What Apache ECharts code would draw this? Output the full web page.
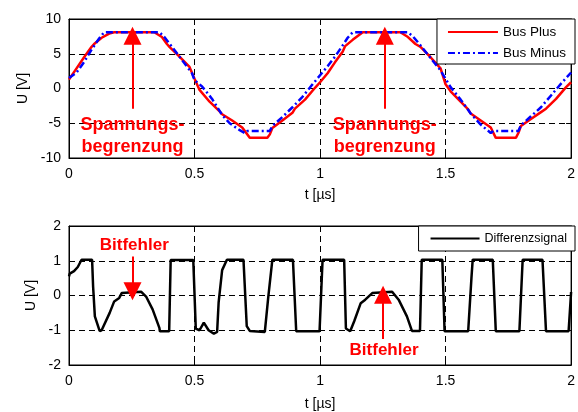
<!DOCTYPE html>
<html>
<head>
<meta charset="utf-8">
<script src="https://cdn.jsdelivr.net/npm/echarts@6/dist/echarts.min.js"></script>
<style>
    html, body { margin: 0; padding: 0; background: #fff; }
    #chart { width: 578px; height: 412px; }
</style>
</head>
<body>
<div id="chart"></div>
<script>
// Bus Plus (rot), Zeit in µs
const tPlus = [0, 0.03, 0.06, 0.09, 0.1, 0.13, 0.16, 0.18, 0.34, 0.37, 0.39, 0.40, 0.44, 0.48, 0.50, 0.52, 0.56, 0.60, 0.61, 0.65, 0.69, 0.72, 0.79, 0.80, 0.81, 0.85, 0.89, 0.90, 0.94, 0.98, 1.0,
    1.03, 1.06, 1.09, 1.10, 1.13, 1.17, 1.32, 1.35, 1.38, 1.40, 1.44, 1.48, 1.50, 1.52, 1.56, 1.59, 1.60, 1.64, 1.68, 1.70, 1.78, 1.79, 1.80, 1.84, 1.88, 1.90, 1.94, 1.98, 2.0];
const busPlus = [1.3, 2.9, 4.5, 6.0, 6.4, 7.3, 7.9, 8.1, 8.1, 7.4, 6.4, 6.0, 4.6, 3.1, 1.4, -0.2, -1.9, -3.3, -3.7, -4.6, -5.6, -7.1, -7.1, -6.6, -5.7, -4.6, -3.5, -2.9, -1.6, 0.1, 0.9,
    2.2, 3.8, 5.3, 6.1, 7.0, 8.1, 8.1, 7.4, 6.4, 6.0, 4.5, 2.9, 0.6, -0.4, -1.9, -3.0, -3.6, -4.6, -5.6, -7.1, -7.1, -6.4, -5.4, -4.4, -3.4, -2.9, -1.5, 0.2, 0.9];

// Bus Minus (blau)
const tMinus = [0, 0.03, 0.06, 0.09, 0.12, 0.14, 0.36, 0.38, 0.41, 0.45, 0.49, 0.50, 0.53, 0.57, 0.61, 0.64, 0.68, 0.70, 0.71, 0.80, 0.81, 0.85, 0.89, 0.93, 0.97, 1.0,
    1.03, 1.06, 1.09, 1.11, 1.13, 1.35, 1.37, 1.40, 1.44, 1.48, 1.50, 1.52, 1.56, 1.60, 1.64, 1.68, 1.69, 1.79, 1.80, 1.84, 1.88, 1.92, 1.96, 2.0];
const busMinus = [1.5, 2.3, 3.8, 5.6, 7.2, 8.1, 8.1, 7.4, 6.0, 4.1, 2.2, 1.2, 0.3, -1.5, -3.8, -5.0, -6.0, -6.4, -6.1, -6.1, -5.4, -4.1, -2.7, -1.2, 0.6, 1.9,
    3.2, 4.6, 6.2, 7.3, 8.1, 8.1, 7.5, 6.2, 4.4, 2.6, 1.4, 0.2, -1.6, -3.6, -5.2, -6.4, -6.1, -6.1, -5.3, -4.0, -2.7, -1.0, 0.7, 2.3];

// Differenzsignal (schwarz)
const tDiff = [0, 0.003, 0.02, 0.035, 0.05, 0.092, 0.096, 0.103, 0.122, 0.13, 0.162, 0.18, 0.2, 0.21, 0.287, 0.307, 0.333, 0.36, 0.362, 0.399, 0.405,
    0.495, 0.505, 0.52, 0.537, 0.556, 0.577, 0.59, 0.596, 0.61, 0.629, 0.695, 0.708, 0.72, 0.78, 0.793, 0.81, 0.892, 0.905,
    0.998, 1.01, 1.096, 1.103, 1.12, 1.136, 1.162, 1.18, 1.208, 1.287, 1.313, 1.346, 1.366, 1.398, 1.405, 1.487, 1.496,
    1.59, 1.603, 1.608, 1.688, 1.70, 1.794, 1.807, 1.886, 1.90, 1.99, 2.0];
const diffSignal = [0.55, 0.63, 0.7, 0.82, 1.03, 1.03, 0.26, -0.6, -1.02, -1.0, -0.5, -0.17, -0.07, 0.07, 0.11, -0.03, -0.4, -0.93, -1.03, -1.03, 1.02,
    1.02, -0.95, -1.0, -0.78, -1.0, -1.1, -1.05, -0.2, 0.73, 1.03, 1.03, -0.88, -1.02, -1.05, -0.1, 1.03, 1.03, -1.03,
    -1.03, 1.03, 1.03, -0.95, -1.03, -0.74, -0.22, -0.12, 0.07, 0.11, -0.12, -0.6, -1.02, -1.02, 1.03, 1.03, -1.03,
    -1.03, 0.5, 1.03, 1.03, -1.03, -1.03, 1.03, 1.03, -1.03, -1.03, 0.1];

// Annotationen: [t, Spitze, Ende]
const clampArrows = [[0.253, 7.6, -2.9], [1.258, 7.6, -2.9]];
const clampLabels = [[0.253, -6.85], [1.258, -6.85]];
const bitArrows = [[0.253, 0.12, 1.12], [1.251, 0.02, -1.25]];
const bitLabels = [[0.26, 1.45], [1.255, -1.58]];

const FONT = 'Liberation Sans';
const RED = '#ff0000';

function zip(xs, ys) {
    return xs.map((x, i) => [x, ys[i]]);
}

function xAxisOf(gridIndex, nameGap) {
    return {
        type: 'value', gridIndex, min: 0, max: 2, interval: 0.5,
        name: 't [µs]', nameLocation: 'middle', nameGap,
        nameTextStyle: { color: '#000', fontSize: 14, fontFamily: FONT },
        axisLine: { show: true, onZero: false, lineStyle: { color: '#000', width: 1 } },
        axisTick: { show: true, inside: true, length: 5, lineStyle: { color: '#000' } },
        axisLabel: { color: '#000', fontSize: 14, fontFamily: FONT, margin: 9 },
        splitLine: { show: true, lineStyle: { color: '#000', type: [6, 4], width: 1 } },
    };
}

function yAxisOf(gridIndex, min, max, interval, nameGap) {
    return {
        type: 'value', gridIndex, min, max, interval,
        name: 'U [V]', nameLocation: 'middle', nameGap,
        nameTextStyle: { color: '#000', fontSize: 14, fontFamily: FONT },
        axisLine: { show: true, onZero: false, lineStyle: { color: '#000', width: 1 } },
        axisTick: { show: true, inside: true, length: 5, lineStyle: { color: '#000' } },
        axisLabel: { color: '#000', fontSize: 14, fontFamily: FONT, margin: 8 },
        splitLine: { show: true, lineStyle: { color: '#000', type: [6, 4], width: 1 } },
    };
}

// Rahmenachsen oben/rechts nur für die Ticks (wie MATLAB-Box)
function boxAxis(base, position) {
    return Object.assign({}, base, {
        position, name: '',
        axisLabel: { show: false },
        splitLine: { show: false },
    });
}

function arrowLines(arrows) {
    return {
        silent: true,
        animation: false,
        symbol: ['none', 'triangle'],
        symbolSize: [18, 18],
        label: { show: false },
        lineStyle: { color: RED, type: 'solid', width: 2 },
        itemStyle: { color: RED },
        emphasis: { disabled: true },
        data: arrows.map(a => [{ coord: [a[0], a[2]] }, { coord: [a[0], a[1]] }]),
    };
}

function textPoints(points, text, fontSize) {
    return {
        silent: true,
        animation: false,
        symbol: 'circle',
        symbolSize: 0,
        label: {
            show: true, position: 'inside', formatter: text,
            color: RED, fontSize, fontWeight: 'bold', fontFamily: FONT, lineHeight: fontSize + 4,
        },
        data: points.map(p => ({ coord: p })),
    };
}

const legendBase = {
    orient: 'vertical', right: 3, itemWidth: 50, itemHeight: 14,
    backgroundColor: '#fff', borderColor: '#000', borderWidth: 1, borderRadius: 0,
    itemStyle: { opacity: 0 },
    selectedMode: false,
};

const xTop = xAxisOf(0, 30);
const xBottom = xAxisOf(1, 32);
const yTop = yAxisOf(0, -10, 10, 5, 34);
const yBottom = yAxisOf(1, -2, 2, 1, 26);

const option = {
    animation: false,
    backgroundColor: '#fff',
    textStyle: { fontFamily: FONT },
    grid: [
        { left: 69, top: 19, width: 506, height: 139, show: true, borderColor: '#000', borderWidth: 1 },
        { left: 69, top: 226, width: 506, height: 141, show: true, borderColor: '#000', borderWidth: 1 },
    ],
    xAxis: [xTop, xBottom, boxAxis(xTop, 'top'), boxAxis(xBottom, 'top')],
    yAxis: [yTop, yBottom, boxAxis(yTop, 'right'), boxAxis(yBottom, 'right')],
    legend: [
        Object.assign({}, legendBase, {
            data: ['Bus Plus', 'Bus Minus'], top: 19,
            padding: [6, 9, 4, 10], itemGap: 7, itemTextGap: 6,
            textStyle: { color: '#000', fontSize: 13.5, fontFamily: FONT },
        }),
        Object.assign({}, legendBase, {
            data: ['Differenzsignal'], top: 226,
            padding: [6, 8, 6, 11], itemWidth: 49, itemTextGap: 8,
            textStyle: { color: '#000', fontSize: 12.5, fontFamily: FONT },
        }),
    ],
    series: [
        {
            name: 'Bus Plus', type: 'line', xAxisIndex: 0, yAxisIndex: 0,
            data: zip(tPlus, busPlus), symbol: 'none', z: 3,
            lineStyle: { color: RED, width: 2.5 }, itemStyle: { color: RED },
            markLine: arrowLines(clampArrows),
            markPoint: textPoints(clampLabels, 'Spannungs-\nbegrenzung', 18),
        },
        {
            name: 'Bus Minus', type: 'line', xAxisIndex: 0, yAxisIndex: 0,
            data: zip(tMinus, busMinus), symbol: 'none', z: 4,
            lineStyle: { color: '#0000ff', width: 2.5, type: [7, 3, 2, 3] }, itemStyle: { color: '#0000ff' },
        },
        {
            name: 'Differenzsignal', type: 'line', xAxisIndex: 1, yAxisIndex: 1,
            data: zip(tDiff, diffSignal), symbol: 'none', z: 3,
            lineStyle: { color: '#000', width: 2.5 }, itemStyle: { color: '#000' },
            markLine: arrowLines(bitArrows),
            markPoint: textPoints(bitLabels, 'Bitfehler', 17),
        },
    ],
};

const chart = echarts.init(document.getElementById('chart'), null, { renderer: 'canvas' });
chart.setOption(option);
</script>
</body>
</html>
